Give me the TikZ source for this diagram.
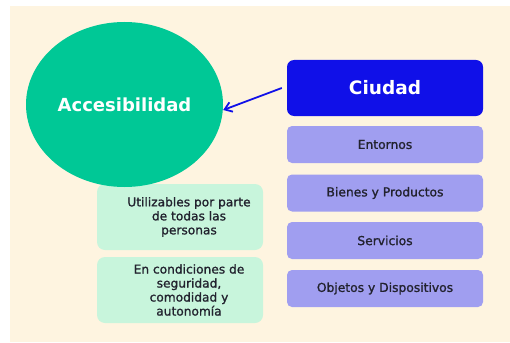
\documentclass[tikz,border=0pt]{standalone}
\usepackage{fontspec}
\setmainfont{DejaVu Sans}
\newfontfamily\boxfont[FakeBold=1.2]{DejaVu Sans}
\usetikzlibrary{shapes.geometric,arrows.meta}
\definecolor{cream}{HTML}{FEF4E0}
\definecolor{teal}{HTML}{00C896}
\definecolor{royal}{HTML}{1010E8}
\definecolor{lav}{HTML}{A09EF0}
\definecolor{mint}{HTML}{C8F5DC}
\definecolor{txt}{HTML}{22222E}
\tikzset{
  lavbox/.style={draw=none,fill=lav,rounded corners=5pt,minimum width=196pt,minimum height=37pt,font=\boxfont\fontsize{12.3}{14}\selectfont,text=txt,inner sep=0pt},
  mintbox/.style={draw=none,fill=mint,rounded corners=8pt,minimum width=166pt,minimum height=66pt,inner sep=0pt},
  minttext/.style={align=center,font=\boxfont\fontsize{12.2}{14}\selectfont,text=txt,inner sep=0pt}
}
\begin{document}
\begin{tikzpicture}[x=1pt,y=-1pt]
\useasboundingbox (0,0) rectangle (510,342);
\fill[white] (0,0) rectangle (510,342);
\fill[cream] (10,6) rectangle (510,342);
% green boxes
\node[mintbox] (u1) at (180,217) {};
\node[minttext] (u1t) at (189,217) {Utilizables por parte\\de todas las\\personas};
\node[mintbox] (u2) at (180,290) {};
\node[minttext] (u2t) at (189,290) {En condiciones de\\seguridad,\\comodidad y\\autonomía};
% ellipse
\node[ellipse,fill=teal,minimum width=197pt,minimum height=165pt,inner sep=0pt,text=white,font=\bfseries\fontsize{18}{18}\selectfont] (acc) at (124.5,104.5) {Accesibilidad};
% right column
\node[fill=royal,rounded corners=7pt,minimum width=196pt,minimum height=56pt,inner sep=0pt,text=white,font=\bfseries\fontsize{18.5}{18.5}\selectfont] (ciu) at (385,88) {Ciudad};
\node[lavbox] (e1) at (385,144.5) {Entornos};
\node[lavbox] (e2) at (385,193) {Bienes y Productos};
\node[lavbox] (e3) at (385,240.5) {Servicios};
\node[lavbox] (e4) at (385,288.5) {Objetos y Dispositivos};
\draw[royal,line width=1.8pt,-{Straight Barb[length=7pt,width=10pt]}] ([xshift=-5pt]ciu.west) -- (acc.east |- 0,110);
\end{tikzpicture}
\end{document}
